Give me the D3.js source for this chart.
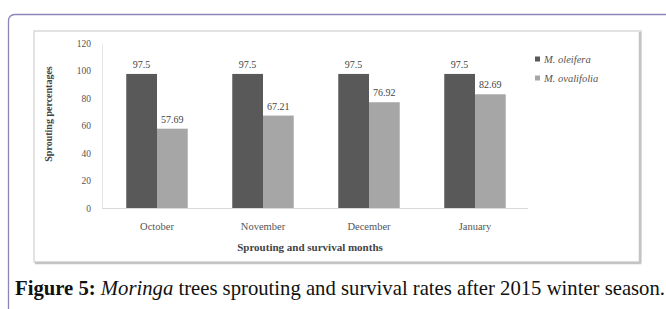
<!DOCTYPE html>
<html>
<head>
<meta charset="utf-8">
<script src="https://cdn.jsdelivr.net/npm/d3@7"></script>
<style>
  body { margin: 0; background: #fff; }
  text { font-family: "Liberation Serif", "Times New Roman", serif; }
</style>
</head>
<body>
<div id="chart"></div>
<script>
var svgWidth = 666;
var svgHeight = 309;

// data
var months = ["October", "November", "December", "January"];
var series = ["M. oleifera", "M. ovalifolia"];
var oleifera = [97.5, 97.5, 97.5, 97.5];
var ovalifolia = [57.69, 67.21, 76.92, 82.69];
var yTicks = [0, 20, 40, 60, 80, 100, 120];
var colors = ["#595959", "#a6a6a6"];

var svg = d3.select("#chart")
  .append("svg")
  .attr("width", svgWidth)
  .attr("height", svgHeight);

// outer journal frame (runs off right and bottom)
svg.append("rect")
  .attr("x", 8.5)
  .attr("y", 14.5)
  .attr("width", 700)
  .attr("height", 340)
  .attr("rx", 6)
  .attr("fill", "none")
  .attr("stroke", "#8a86b6")
  .attr("stroke-width", 1.3);

// inner chart box with shadowed right/bottom edge
svg.append("rect")
  .attr("x", 34)
  .attr("y", 31)
  .attr("width", 607)
  .attr("height", 231)
  .attr("fill", "#fff")
  .attr("stroke", "#d9d9d9")
  .attr("stroke-width", 1.5);
svg.append("path")
  .attr("d", "M640,32 V263 H35")
  .attr("fill", "none")
  .attr("stroke", "#c4c4c4")
  .attr("stroke-width", 2.5);

var x0 = d3.scaleBand()
  .domain(months)
  .range([104, 528])
  .paddingInner(0.42)
  .paddingOuter(0.21);

var x1 = d3.scaleBand()
  .domain(series)
  .range([0, x0.bandwidth()]);

var y = d3.scaleLinear()
  .domain([0, 120])
  .range([208, 43]);

var chartGroup = svg.append("g");

// y axis
var yAxis = chartGroup.append("g")
  .attr("transform", "translate(102,0)")
  .call(d3.axisLeft(y).tickValues(yTicks).tickSize(0).tickPadding(11));
yAxis.select(".domain").attr("stroke", "#e6e6e6");
yAxis.selectAll("text")
  .style("font-family", "Liberation Serif, serif")
  .style("font-size", "9.5px")
  .attr("fill", "#555");

// x axis
var xAxis = chartGroup.append("g")
  .attr("transform", "translate(0,208)")
  .call(d3.axisBottom(x0).tickSize(0).tickPadding(15));
xAxis.select(".domain").attr("stroke", "#d9d9d9").attr("d", "M102,0.5H528");
xAxis.selectAll("text")
  .style("font-family", "Liberation Serif, serif")
  .style("font-size", "10.5px")
  .attr("fill", "#555");

var table = months.map(function(m, i) {
  return { month: m, values: [
    { key: series[0], value: oleifera[i], color: colors[0] },
    { key: series[1], value: ovalifolia[i], color: colors[1] }
  ] };
});

var groups = chartGroup.selectAll(".grp")
  .data(table)
  .enter()
  .append("g")
  .attr("class", "grp")
  .attr("transform", d => `translate(${x0(d.month)},0)`);

groups.selectAll("rect")
  .data(d => d.values)
  .enter()
  .append("rect")
  .attr("x", d => x1(d.key))
  .attr("y", d => y(d.value))
  .attr("width", x1.bandwidth())
  .attr("height", d => y(0) - y(d.value))
  .attr("fill", d => d.color);

groups.selectAll(".lbl")
  .data(d => d.values)
  .enter()
  .append("text")
  .attr("class", "lbl")
  .attr("x", d => x1(d.key) + x1.bandwidth() / 2)
  .attr("y", d => y(d.value) - 6)
  .attr("text-anchor", "middle")
  .style("font-size", "10px")
  .attr("fill", "#444")
  .text(d => d.value);

// axis titles
chartGroup.append("text")
  .attr("transform", "rotate(-90)")
  .attr("x", -114)
  .attr("y", 52)
  .attr("text-anchor", "middle")
  .style("font-size", "10px")
  .style("font-weight", "bold")
  .attr("fill", "#444")
  .text("Sprouting percentages");

chartGroup.append("text")
  .attr("x", 310)
  .attr("y", 251)
  .attr("text-anchor", "middle")
  .style("font-size", "11px")
  .style("font-weight", "bold")
  .attr("fill", "#444")
  .text("Sprouting and survival months");

// legend
var legend = chartGroup.selectAll(".leg")
  .data(series)
  .enter()
  .append("g")
  .attr("class", "leg")
  .attr("transform", (d, i) => `translate(535,${59 + i * 19})`);
legend.append("rect")
  .attr("x", 0)
  .attr("y", -2.5)
  .attr("width", 5)
  .attr("height", 5)
  .attr("fill", (d, i) => colors[i]);
legend.append("text")
  .attr("x", 9)
  .attr("y", 3.5)
  .style("font-size", "10.5px")
  .style("font-style", "italic")
  .attr("fill", "#555")
  .text(d => d);

// caption
var caption = svg.append("text")
  .attr("x", 15)
  .attr("y", 295)
  .style("font-size", "20.7px")
  .attr("fill", "#111");
caption.append("tspan").style("font-weight", "bold").text("Figure 5: ");
caption.append("tspan").style("font-style", "italic").text("Moringa");
caption.append("tspan").text(" trees sprouting and survival rates after 2015 winter season.");
</script>
</body>
</html>
